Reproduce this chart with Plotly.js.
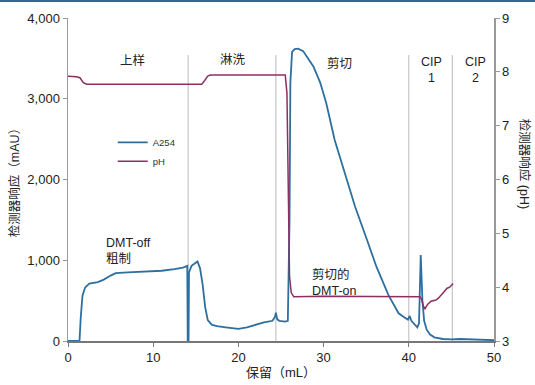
<!DOCTYPE html>
<html>
<head>
<meta charset="utf-8">
<script src="https://cdn.plot.ly/plotly-3.0.1.min.js"></script>
<style>html,body{margin:0;padding:0;background:#fff;}#chart{width:535px;height:385px;}</style>
</head>
<body>
<div id="chart"></div>
<script>
// A254 trace (retention mL, mAU)
const a254X = [0, 1.35, 1.5, 1.7, 2.0, 2.5, 3.5, 4.2, 5.0, 5.6, 7, 9, 11, 12.5, 13.5, 14.0, 14.05, 14.15, 14.2, 14.5, 15.0, 15.2, 15.5, 15.8, 16.1, 16.4, 16.9, 17.5, 18.5, 20, 21, 22, 23, 24.0, 24.3, 24.4, 24.55, 24.8, 25.5, 25.8, 26.0, 26.1, 26.3, 26.6, 27.0, 27.6, 28.2, 28.8, 29.6, 30.3, 31.3, 32.5, 33.7, 35.1, 36.2, 37.6, 38.8, 39.5, 39.9, 40.1, 40.3, 41.0, 41.2, 41.4, 41.6, 41.8, 42.1, 42.5, 43, 44, 45, 46, 47, 48, 49, 50];
const a254Y = [0, 0, 300, 560, 660, 710, 730, 760, 810, 840, 850, 860, 870, 890, 910, 930, 0, 0, 850, 930, 970, 985, 900, 700, 420, 260, 200, 185, 170, 150, 170, 200, 230, 250, 300, 350, 270, 250, 240, 250, 1500, 3200, 3580, 3615, 3620, 3590, 3500, 3400, 3200, 2950, 2490, 2076, 1663, 1251, 920, 570, 343, 290, 265, 310, 250, 170, 220, 1065, 500, 250, 140, 80, 45, 25, 20, 25, 20, 18, 15, 10];
// pH trace
const phX = [0, 1.0, 1.4, 1.8, 2.2, 8, 15.7, 16.0, 16.4, 16.7, 20, 25.5, 25.7, 25.8, 25.9, 26.0, 26.2, 26.5, 30, 35, 41.3, 41.5, 41.7, 41.9, 42.2, 42.6, 43.2, 43.5, 44.0, 44.5, 44.8, 45.2];
const phY = [7.92, 7.91, 7.89, 7.8, 7.77, 7.77, 7.77, 7.83, 7.92, 7.94, 7.94, 7.94, 7.6, 6.0, 4.8, 4.2, 3.9, 3.82, 3.83, 3.82, 3.82, 3.78, 3.65, 3.6, 3.68, 3.74, 3.76, 3.8, 3.9, 3.98, 4.0, 4.07];
// phase boundaries (mL) and phase labels
const phaseBounds = [14.1, 24.4, 40.0, 45.1];
const phaseTop = 3540;
const phaseLabels = ['上样', '淋洗', '剪切', 'CIP<br>1', 'CIP<br>2'];
const phaseLabelX = [7.6, 19.4, 31.9, 42.7, 47.8];
const phaseLabelY = [3470, 3480, 3440, 3350, 3350];
const noteLabels = ['DMT-off<br>粗制', '剪切的<br>DMT-on'];
const noteX = [4.2, 28.4];
const noteY = [1110, 730];
const xTicks = [0, 10, 20, 30, 40, 50];
const yTicks = [0, 1000, 2000, 3000, 4000];
const y2Ticks = [3, 4, 5, 6, 7, 8, 9];

const FONT = 'Arial, "Liberation Sans", "Noto Sans CJK SC", sans-serif';
const blue = '#2e6f9e';
const purple = '#8e2f62';

const traces = [
  {x: a254X, y: a254Y, name: 'A254', type: 'scatter', mode: 'lines', line: {color: blue, width: 1.8}},
  {x: phX, y: phY, name: 'pH', type: 'scatter', mode: 'lines', yaxis: 'y2', line: {color: purple, width: 1.5}}
];

const shapes = phaseBounds.map(b => ({type: 'line', xref: 'x', yref: 'y', x0: b, x1: b, y0: 0, y1: phaseTop, line: {color: '#bbbbbb', width: 1}, layer: 'below'}));
shapes.push({type: 'rect', xref: 'paper', yref: 'paper', x0: -0.2, x1: 1.2, y0: 1 + 16/323, y1: 1 + 19/323, fillcolor: '#2e6a94', line: {width: 0}});

const annotations = [];
phaseLabels.forEach((t, i) => annotations.push({x: phaseLabelX[i], y: phaseLabelY[i], xref: 'x', yref: 'y', text: t, showarrow: false, font: {family: FONT, size: 12.5, color: '#222'}}));
noteLabels.forEach((t, i) => annotations.push({x: noteX[i], y: noteY[i], xref: 'x', yref: 'y', text: t, showarrow: false, xanchor: 'left', align: 'left', font: {family: FONT, size: 12.5, color: '#222'}}));
annotations.push({x: 1 + 40/426, y: 0.55, xref: 'paper', yref: 'paper', text: '检测器响应 (pH)', textangle: 90, showarrow: false, font: {family: FONT, size: 12.5, color: '#222'}});

const layout = {
  width: 535, height: 385,
  margin: {l: 68, r: 41, t: 18, b: 44},
  paper_bgcolor: '#fff', plot_bgcolor: '#fff',
  font: {family: FONT, size: 13, color: '#222'},
  showlegend: true,
  legend: {x: 0.105, y: 0.66, xanchor: 'left', yanchor: 'top', bgcolor: 'rgba(0,0,0,0)', font: {family: FONT, size: 9.5, color: '#333'}, itemwidth: 30, tracegroupgap: 4},
  xaxis: {range: [0, 50], tickvals: xTicks, ticks: 'outside', ticklen: 4, tickcolor: '#777', showline: true, linecolor: '#777', linewidth: 1.5, showgrid: false, zeroline: false,
    title: {text: '保留（mL）', font: {family: FONT, size: 13, color: '#222'}, standoff: 4}},
  yaxis: {range: [0, 4000], tickvals: yTicks, tickformat: ',', ticks: 'outside', ticklen: 4, tickcolor: '#999', showline: true, linecolor: '#999', linewidth: 1.5, showgrid: false, zeroline: false,
    title: {text: '检测器响应（mAU）', font: {family: FONT, size: 12.5, color: '#222'}, standoff: 5}},
  yaxis2: {range: [3, 9], tickvals: y2Ticks, overlaying: 'y', side: 'right', ticks: 'outside', ticklen: 4, tickcolor: '#999', showline: true, linecolor: '#999', linewidth: 1.5, showgrid: false, zeroline: false},
  shapes: shapes,
  annotations: annotations
};

Plotly.newPlot('chart', traces, layout, {displayModeBar: false, staticPlot: true});
</script>
</body>
</html>
